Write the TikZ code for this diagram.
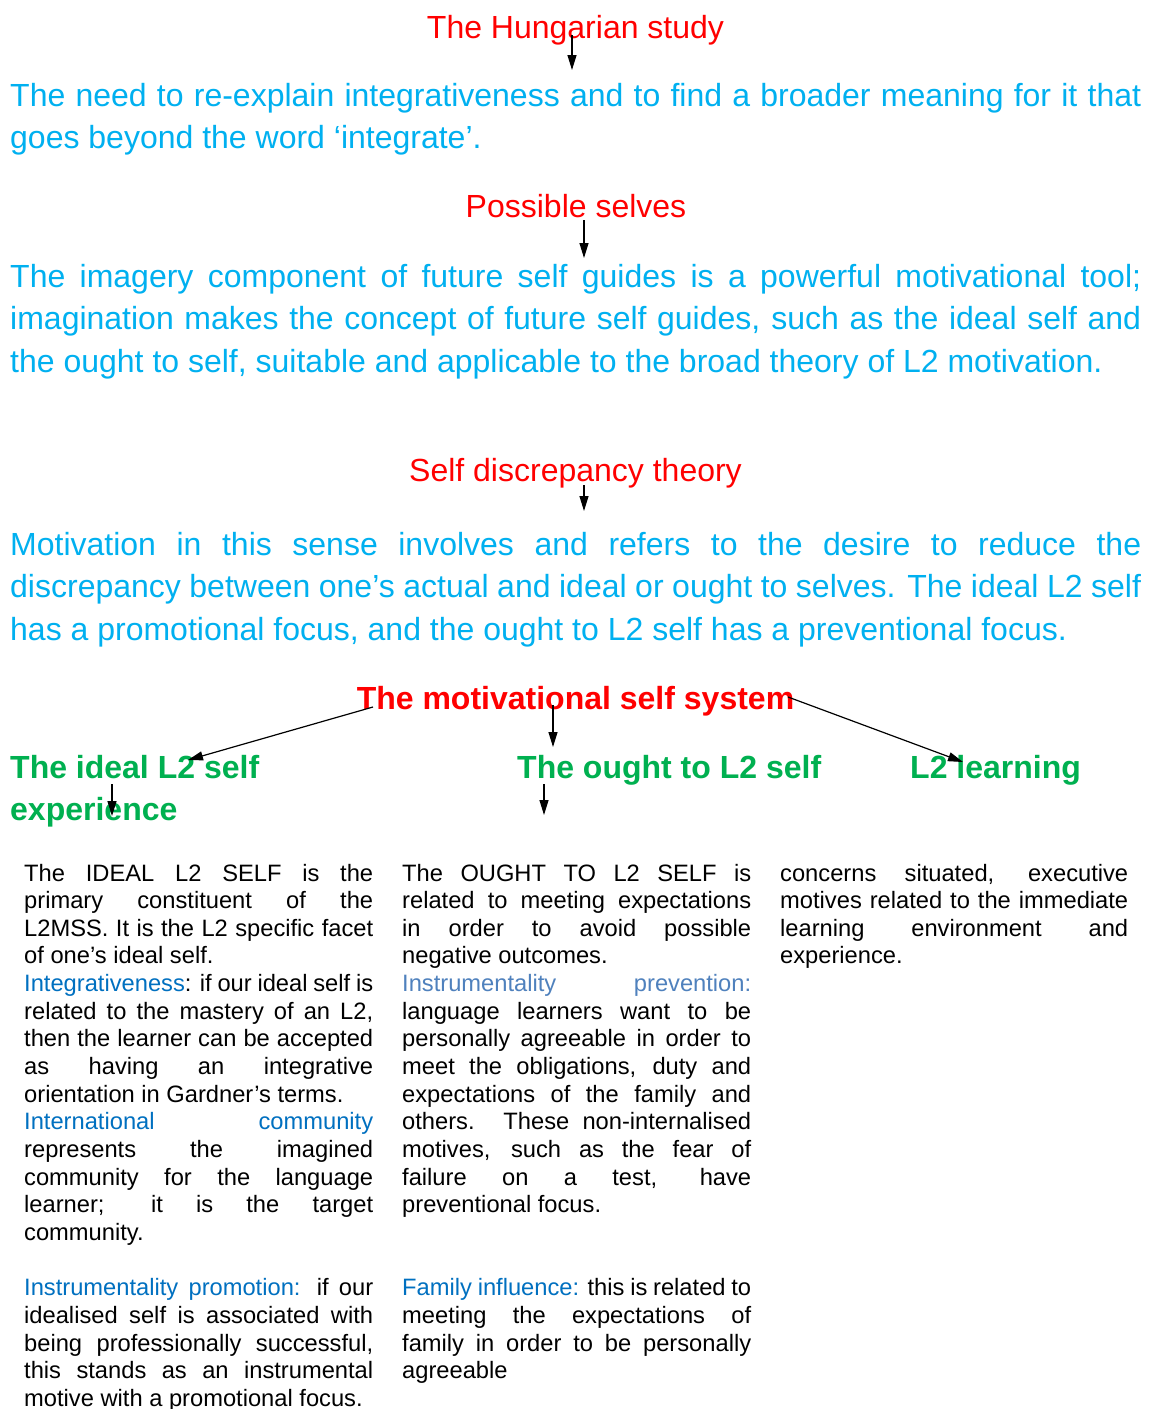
\documentclass[tikz,border=0pt]{standalone}
\usepackage{fontspec}
\setmainfont{Liberation Sans}
\usetikzlibrary{arrows.meta}
\definecolor{tred}{HTML}{FF0000}
\definecolor{tcyan}{HTML}{00B0F0}
\definecolor{tgreen}{HTML}{00B050}
\definecolor{tblue}{HTML}{0070C0}
\definecolor{tsteel}{HTML}{4F81BD}
\newcommand{\JL}[1]{\makebox[\linewidth][s]{#1}\par}
\newcommand{\LL}[1]{\mbox{#1}\par}
\newcommand{\BL}{\mbox{}\par}
\begin{document}
\begin{tikzpicture}[x=1pt,y=-1pt,
  title/.style={font=\fontsize{32}{42.5}\selectfont, text=tred, inner sep=0pt, anchor=base},
  para/.style={font=\fontsize{32}{42.5}\selectfont, text=tcyan, inner sep=0pt, anchor=base west},
  head/.style={font=\fontsize{32}{42}\selectfont\bfseries, inner sep=0pt, anchor=base west, text=tgreen},
  small/.style={font=\fontsize{23.7}{27.65}\selectfont, inner sep=0pt, anchor=base west, text=black},
  arr/.style={-{Triangle[length=15pt,width=9pt]}, line width=1.2pt, black}]
\useasboundingbox (0,0) rectangle (1153,1409);
\fill[white] (0,0) rectangle (1153,1409);

% titles
\node[title] (hung) at (575.5,38) {The Hungarian study};
\node[title] (poss) at (576,217) {Possible selves};
\node[title] (sdt) at (575.5,481) {Self discrepancy theory};
\node[title, font=\fontsize{32}{42.5}\selectfont\bfseries] (mss) at (575.5,709) {The motivational self system};

% cyan paragraphs
\node[para] (p1) at (10,106) {\parbox[t]{1131pt}{%
\JL{The need to re-explain integrativeness and to find a broader meaning for it that}%
\LL{goes beyond the word ‘integrate’.}}};
\node[para] (p2) at (10,287) {\parbox[t]{1131pt}{%
\JL{The imagery component of future self guides is a powerful motivational tool;}%
\JL{imagination makes the concept of future self guides, such as the ideal self and}%
\LL{the ought to self, suitable and applicable to the broad theory of L2 motivation.}}};
\node[para] (p3) at (10,555) {\parbox[t]{1131pt}{%
\JL{Motivation in this sense involves and refers to the desire to reduce the}%
\JL{discrepancy between one’s actual and ideal or ought to selves. The ideal L2 self}%
\LL{has a promotional focus, and the ought to L2 self has a preventional focus.}}};

% green headings
\node[head] (ideal) at (10,778) {\parbox[t]{400pt}{The ideal L2 self\par experience}};
\node[head] (ought) at (517,778) {The ought to L2 self};
\node[head] (learn) at (910,778) {L2 learning};

% columns
\node[small] (c1) at (24,881) {\parbox[t]{349pt}{%
\JL{The IDEAL L2 SELF is the}%
\JL{primary constituent of the}%
\JL{L2MSS. It is the L2 specific facet}%
\LL{of one’s ideal self.}%
\JL{\textcolor{tblue}{Integrativeness}: if our ideal self is}%
\JL{related to the mastery of an L2,}%
\JL{then the learner can be accepted}%
\JL{as having an integrative}%
\LL{orientation in Gardner’s terms.}%
\JL{\textcolor{tblue}{International community}}%
\JL{represents the imagined}%
\JL{community for the language}%
\JL{learner; it is the target}%
\LL{community.}%
\BL
\JL{\textcolor{tblue}{Instrumentality promotion:} if our}%
\JL{idealised self is associated with}%
\JL{being professionally successful,}%
\JL{this stands as an instrumental}%
\LL{motive with a promotional focus.}}};

\node[small] (c2) at (402,881) {\parbox[t]{349pt}{%
\JL{The OUGHT TO L2 SELF is}%
\JL{related to meeting expectations}%
\JL{in order to avoid possible}%
\LL{negative outcomes.}%
\JL{\textcolor{tsteel}{Instrumentality prevention:}}%
\JL{language learners want to be}%
\JL{personally agreeable in order to}%
\JL{meet the obligations, duty and}%
\JL{expectations of the family and}%
\JL{others. These non-internalised}%
\JL{motives, such as the fear of}%
\JL{failure on a test, have}%
\LL{preventional focus.}%
\BL\BL
\JL{\textcolor{tblue}{Family influence:} this is related to}%
\JL{meeting the expectations of}%
\JL{family in order to be personally}%
\LL{agreeable}}};

\node[small] (c3) at (780,881) {\parbox[t]{348pt}{%
\JL{concerns situated, executive}%
\JL{motives related to the immediate}%
\JL{learning environment and}%
\LL{experience.}}};

% arrows
\coordinate (a1s) at (572,35);  \coordinate (a1e) at (572,70);
\coordinate (a2s) at (584,220); \coordinate (a2e) at (584,258);
\coordinate (a3s) at (584,485); \coordinate (a3e) at (584,511);
\coordinate (a4s) at (373,707); \coordinate (a4e) at (188,760);
\coordinate (a5s) at (553,705); \coordinate (a5e) at (553,747);
\coordinate (a6s) at (788,697); \coordinate (a6e) at (963,762);
\coordinate (a7s) at (112,784); \coordinate (a7e) at (112,816);
\coordinate (a8s) at (544,784); \coordinate (a8e) at (544,815);
\draw[arr] (a1s) -- (a1e);
\draw[arr] (a2s) -- (a2e);
\draw[arr] (a3s) -- (a3e);
\draw[arr] (a4s) -- (a4e);
\draw[arr] (a5s) -- (a5e);
\draw[arr] (a6s) -- (a6e);
\draw[arr] (a7s) -- (a7e);
\draw[arr] (a8s) -- (a8e);
\end{tikzpicture}
\end{document}
